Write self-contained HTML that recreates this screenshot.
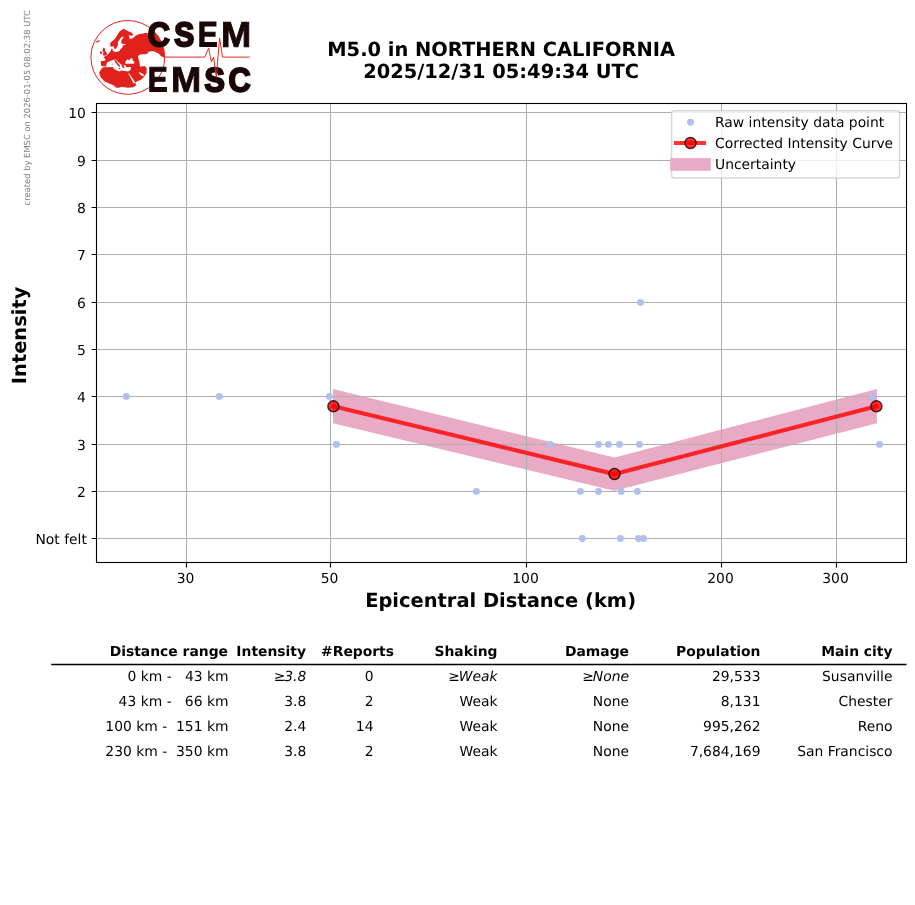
<!DOCTYPE html>
<html lang="en"><head><meta charset="utf-8"><title>M5.0 in NORTHERN CALIFORNIA</title>
<style>
html,body{margin:0;padding:0;background:#fff;}
svg{display:block;}
text{text-rendering:geometricPrecision;font-family:"DejaVu Sans","Liberation Sans",sans-serif;fill:#000;}
.b{font-weight:bold;}
.t10{font-size:13.889px;}
.t14{font-size:19.444px;font-weight:bold;}
.i{font-style:italic;}
.logo{text-rendering:geometricPrecision;font-family:"Liberation Sans","DejaVu Sans",sans-serif;font-weight:bold;fill:#1a0606;}
</style></head><body>
<svg width="915" height="905" viewBox="0 0 915 905">
<rect width="915" height="905" fill="#fff"/>
<text transform="translate(30,205.4) rotate(-90)" font-size="8.38px" style="fill:#808080">created by EMSC on 2026-01-05 08:02:38 UTC</text>
<title>CSEM EMSC</title>
<defs><clipPath id="gc"><circle cx="127.8" cy="57.4" r="36.9"/></clipPath></defs>
<g clip-path="url(#gc)">
<path d="M122.7 29.3L124.5 29.0L126.0 30.3L131.2 32.6L133.2 34.6L132.2 35.7L128.6 35.2L129.9 39.2L133.9 37.5L135.4 35.8L138.7 34.2L143.1 33.6L145.5 32.8L148.2 33.5L153.0 30.0L170.0 30.0L170.0 57.5L164.0 57.5L161.0 56.0L158.6 53.6L153.2 50.9L148.6 51.7L147.0 54.0L140.0 54.4L138.1 56.0L138.6 59.3L139.3 61.4L140.0 66.8L144.7 66.0L146.6 68.3L146.6 73.0L144.7 76.0L141.4 79.6L135.4 82.3L136.0 85.6L133.3 87.2L127.8 87.8L121.2 86.7L119.0 87.8L116.3 87.8L113.0 85.1L110.3 84.0L104.3 81.2L100.5 76.9L99.1 72.5L102.1 67.8L104.0 67.3L104.0 66.4L101.0 65.6L100.7 61.2L105.3 60.4L105.0 58.6L103.5 57.5L105.5 55.8L107.0 55.2L109.6 52.6L110.9 50.3L111.6 48.4L112.6 49.0L112.9 51.3L115.8 52.0L119.8 51.0L120.4 49.3L122.4 47.4L122.7 45.4L124.7 45.1L126.0 44.1L122.0 43.8L121.1 42.1L121.7 39.8L123.7 37.5L122.7 36.4L121.1 37.5L119.1 40.2L117.8 42.5L118.1 44.4L117.5 46.1L115.8 49.0L114.6 48.8L113.4 46.2L112.2 46.6L110.6 46.7L110.1 44.1L110.6 42.5L114.8 38.9L117.1 35.6L119.1 32.0ZM103.5 47.6L105.2 49.0L105.0 50.8L106.8 52.8L106.8 55.0L104.0 55.8L102.6 54.8L103.6 52.8L102.4 50.6Z" fill="#e2211c"/>
<ellipse cx="101" cy="52.8" rx="1.2" ry="1.3" fill="#e2211c"/>
<ellipse cx="97.9" cy="41.4" rx="2.3" ry="0.7" transform="rotate(-25 97.9 41.4)" fill="#e2211c"/>
<path d="M104.0 66.5L106.2 66.5L106.4 64.0L107.2 62.5L110.0 61.1L113.0 60.1L114.8 59.2L116.0 59.5L118.5 62.2L121.4 64.8L121.4 64.0L124.4 65.2L125.6 65.2L125.8 67.0L131.0 67.0L131.0 67.6L130.5 70.0L128.0 71.5L121.4 70.6L119.0 71.5L113.6 68.8L113.0 67.0L104.0 67.3ZM125.0 62.8L126.2 60.6L127.5 59.2L129.2 60.6L130.2 58.8L132.3 58.0L132.6 60.2L134.7 62.2L133.5 63.7L125.6 63.7ZM138.5 72.0L141.2 73.0L144.6 75.3L143.0 76.0L140.0 74.6Z" fill="#fff"/>
<path d="M114.4 59.0L115.6 59.8L117.6 62.6L120.2 65.9L119.6 66.8L118.2 66.2L116.4 63.6L114.6 61.2ZM121.2 63.9L123.6 64.6L124.5 68.3L123.2 67.9L121.8 66.0Z" fill="#e2211c"/>
<circle cx="119.4" cy="68.5" r="0.8" fill="#e2211c"/>
<circle cx="112.2" cy="64" r="0.6" fill="#e2211c"/>
<path d="M128.2 73.2L129 73.2L135.3 82.6L133.6 83.4Z" fill="#fff"/>
</g>
<circle cx="127.8" cy="57.4" r="36.9" fill="none" stroke="#e2211c" stroke-width="1"/>
<text class="logo" stroke="#1a0606" transform="rotate(0.1 199 47.1)"><tspan x="147.72" y="46.25" font-size="34.08px" textLength="22.11" lengthAdjust="spacingAndGlyphs" stroke-width="2">C</tspan><tspan x="174.14" y="46.15" font-size="33.80px" textLength="19.93" lengthAdjust="spacingAndGlyphs" stroke-width="2.2">S</tspan><tspan x="197.81" y="46.58" font-size="35.58px" textLength="19.97" lengthAdjust="spacingAndGlyphs" stroke-width="1.1">E</tspan><tspan x="220.90" y="46.68" font-size="35.87px" textLength="30.18" lengthAdjust="spacingAndGlyphs" stroke-width="0.9">M</tspan></text>
<text class="logo" stroke="#1a0606" transform="rotate(0.1 199 92.3)"><tspan x="147.81" y="91.71" font-size="35.26px" textLength="19.97" lengthAdjust="spacingAndGlyphs" stroke-width="1.1">E</tspan><tspan x="170.90" y="91.81" font-size="35.55px" textLength="30.18" lengthAdjust="spacingAndGlyphs" stroke-width="0.9">M</tspan><tspan x="204.53" y="91.28" font-size="33.49px" textLength="20.26" lengthAdjust="spacingAndGlyphs" stroke-width="2.2">S</tspan><tspan x="228.44" y="91.38" font-size="33.77px" textLength="22.17" lengthAdjust="spacingAndGlyphs" stroke-width="2">C</tspan></text>
<polyline points="164.7,57.1 204.8,57.1 208.6,48.3 211.4,62.0 213.6,57.1 216.3,77.3 219.6,38.0 222.5,57.1 249.6,57.1" fill="none" stroke="#e2211c" stroke-width="0.95" stroke-linejoin="round"/>
<text class="t14" x="501.15" y="56" text-anchor="middle">M5.0 in NORTHERN CALIFORNIA</text>
<text class="t14" x="501.1" y="77.85" text-anchor="middle">2025/12/31 05:49:34 UTC</text>
<polygon points="333.0,389.1 614.5,457.6 876.9,389.1 876.9,423.3 614.5,490.8 333.0,423.3" fill="#e9aac5"/>
<path d="M96.5 112.5H906.5M96.5 160.5H906.5M96.5 207.5H906.5M96.5 254.5H906.5M96.5 302.5H906.5M96.5 349.5H906.5M96.5 396.5H906.5M96.5 444.5H906.5M96.5 491.5H906.5M96.5 538.5H906.5M186.5 103.5V562.5M330.5 103.5V562.5M526.5 103.5V562.5M721.5 103.5V562.5M836.5 103.5V562.5" stroke="#b0b0b0" stroke-width="1.1" fill="none"/>
<g fill="#b1bfec"><circle cx="126.3" cy="396.4" r="3.47"/><circle cx="219.3" cy="396.4" r="3.47"/><circle cx="329.3" cy="396.4" r="3.47"/><circle cx="872.5" cy="396.4" r="3.47"/><circle cx="336.4" cy="444.4" r="3.47"/><circle cx="550.3" cy="444.4" r="3.47"/><circle cx="598.5" cy="444.4" r="3.47"/><circle cx="608.4" cy="444.4" r="3.47"/><circle cx="619.5" cy="444.4" r="3.47"/><circle cx="639.4" cy="444.4" r="3.47"/><circle cx="879.5" cy="444.4" r="3.47"/><circle cx="476.4" cy="491.4" r="3.47"/><circle cx="580.4" cy="491.4" r="3.47"/><circle cx="598.5" cy="491.4" r="3.47"/><circle cx="621.3" cy="491.4" r="3.47"/><circle cx="637.4" cy="491.4" r="3.47"/><circle cx="582.4" cy="538.5" r="3.47"/><circle cx="620.4" cy="538.5" r="3.47"/><circle cx="638.5" cy="538.5" r="3.47"/><circle cx="643.6" cy="538.5" r="3.47"/><circle cx="640.5" cy="302.4" r="3.47"/></g>
<polyline points="333.4,406.3 614.5,474.1 876.4,406.3" fill="none" stroke="#ff0000" stroke-opacity="0.8" stroke-width="4.17" stroke-linejoin="round" stroke-linecap="square"/>
<circle cx="333.4" cy="406.3" r="5.55" fill="#ff0000" fill-opacity="0.8" stroke="#000" stroke-opacity="0.8" stroke-width="1.39"/>
<circle cx="614.5" cy="474.1" r="5.55" fill="#ff0000" fill-opacity="0.8" stroke="#000" stroke-opacity="0.8" stroke-width="1.39"/>
<circle cx="876.4" cy="406.3" r="5.55" fill="#ff0000" fill-opacity="0.8" stroke="#000" stroke-opacity="0.8" stroke-width="1.39"/>
<path d="M96.5 112.5h-4.9M96.5 160.5h-4.9M96.5 207.5h-4.9M96.5 254.5h-4.9M96.5 302.5h-4.9M96.5 349.5h-4.9M96.5 396.5h-4.9M96.5 444.5h-4.9M96.5 491.5h-4.9M96.5 538.5h-4.9M186.5 562.5v4.9M330.5 562.5v4.9M526.5 562.5v4.9M721.5 562.5v4.9M836.5 562.5v4.9" stroke="#000" stroke-width="1.1" fill="none"/>
<rect x="96.5" y="103.5" width="810.0" height="459.0" fill="none" stroke="#000" stroke-width="1.1"/>
<text class="t10" x="85.8" y="117.6" text-anchor="end">10</text>
<text class="t10" x="85.8" y="165.6" text-anchor="end">9</text>
<text class="t10" x="85.8" y="212.6" text-anchor="end">8</text>
<text class="t10" x="85.8" y="259.6" text-anchor="end">7</text>
<text class="t10" x="85.8" y="307.6" text-anchor="end">6</text>
<text class="t10" x="85.8" y="354.6" text-anchor="end">5</text>
<text class="t10" x="85.8" y="401.6" text-anchor="end">4</text>
<text class="t10" x="85.8" y="449.6" text-anchor="end">3</text>
<text class="t10" x="85.8" y="496.6" text-anchor="end">2</text>
<text class="t10" x="86.9" y="543.6" text-anchor="end">Not felt</text>
<text class="t10" x="185.5" y="583.1" text-anchor="middle">30</text>
<text class="t10" x="329.5" y="583.1" text-anchor="middle">50</text>
<text class="t10" x="525.5" y="583.1" text-anchor="middle">100</text>
<text class="t10" x="720.5" y="583.1" text-anchor="middle">200</text>
<text class="t10" x="835.5" y="583.1" text-anchor="middle">300</text>
<text class="t14" x="500.6" y="606.6" text-anchor="middle">Epicentral Distance (km)</text>
<text class="t14" transform="translate(26.3,335.4) rotate(-90)" text-anchor="middle">Intensity</text>
<rect x="671.6" y="110.8" width="228" height="67.2" rx="2.8" fill="#fff" fill-opacity="0.8" stroke="#cccccc" stroke-opacity="0.8" stroke-width="1.39"/>
<circle cx="690.5" cy="122.3" r="3.47" fill="#b1bfec"/>
<path d="M674 143H706.1" stroke="#ff0000" stroke-opacity="0.8" stroke-width="4.17"/>
<circle cx="690.5" cy="143" r="5.55" fill="#ff0000" fill-opacity="0.8" stroke="#000" stroke-opacity="0.8" stroke-width="1.39"/>
<rect x="670.2" y="158.1" width="40.6" height="12.7" fill="#e9aac5"/>
<text class="t10" x="715" y="127.2">Raw intensity data point</text>
<text class="t10" x="715" y="148.1">Corrected Intensity Curve</text>
<text class="t10" x="715" y="169.0">Uncertainty</text>
<text class="t10 b" x="228.0" y="656.2" text-anchor="end">Distance range</text>
<text class="t10 b" x="306.0" y="656.2" text-anchor="end">Intensity</text>
<text class="t10 b" x="394.0" y="656.2" text-anchor="end">#Reports</text>
<text class="t10 b" x="497.5" y="656.2" text-anchor="end">Shaking</text>
<text class="t10 b" x="629.0" y="656.2" text-anchor="end">Damage</text>
<text class="t10 b" x="760.5" y="656.2" text-anchor="end">Population</text>
<text class="t10 b" x="892.5" y="656.2" text-anchor="end">Main city</text>
<path d="M51.2 664.45H906.5" stroke="#000" stroke-width="1.35"/>
<text class="t10" x="228.5" y="680.9" text-anchor="end">0 km -   43 km</text>
<text class="t10" x="306.3" y="680.9" text-anchor="end">≥<tspan dx="-1.2" class="i">3.8</tspan></text>
<text class="t10" x="373.5" y="680.9" text-anchor="end">0</text>
<text class="t10" x="497.5" y="680.9" text-anchor="end">≥<tspan dx="-1.2" class="i">Weak</tspan></text>
<text class="t10" x="629.0" y="680.9" text-anchor="end">≥<tspan dx="-1.2" class="i">None</tspan></text>
<text class="t10" x="760.5" y="680.9" text-anchor="end">29,533</text>
<text class="t10" x="892.5" y="680.9" text-anchor="end">Susanville</text>
<text class="t10" x="228.5" y="706.0" text-anchor="end">43 km -   66 km</text>
<text class="t10" x="306.3" y="706.0" text-anchor="end">3.8</text>
<text class="t10" x="373.5" y="706.0" text-anchor="end">2</text>
<text class="t10" x="497.5" y="706.0" text-anchor="end">Weak</text>
<text class="t10" x="629.0" y="706.0" text-anchor="end">None</text>
<text class="t10" x="760.5" y="706.0" text-anchor="end">8,131</text>
<text class="t10" x="892.5" y="706.0" text-anchor="end">Chester</text>
<text class="t10" x="228.5" y="731.2" text-anchor="end">100 km -  151 km</text>
<text class="t10" x="306.3" y="731.2" text-anchor="end">2.4</text>
<text class="t10" x="373.5" y="731.2" text-anchor="end">14</text>
<text class="t10" x="497.5" y="731.2" text-anchor="end">Weak</text>
<text class="t10" x="629.0" y="731.2" text-anchor="end">None</text>
<text class="t10" x="760.5" y="731.2" text-anchor="end">995,262</text>
<text class="t10" x="892.5" y="731.2" text-anchor="end">Reno</text>
<text class="t10" x="228.5" y="756.3" text-anchor="end">230 km -  350 km</text>
<text class="t10" x="306.3" y="756.3" text-anchor="end">3.8</text>
<text class="t10" x="373.5" y="756.3" text-anchor="end">2</text>
<text class="t10" x="497.5" y="756.3" text-anchor="end">Weak</text>
<text class="t10" x="629.0" y="756.3" text-anchor="end">None</text>
<text class="t10" x="760.5" y="756.3" text-anchor="end">7,684,169</text>
<text class="t10" x="892.5" y="756.3" text-anchor="end">San Francisco</text>
</svg>
</body></html>
